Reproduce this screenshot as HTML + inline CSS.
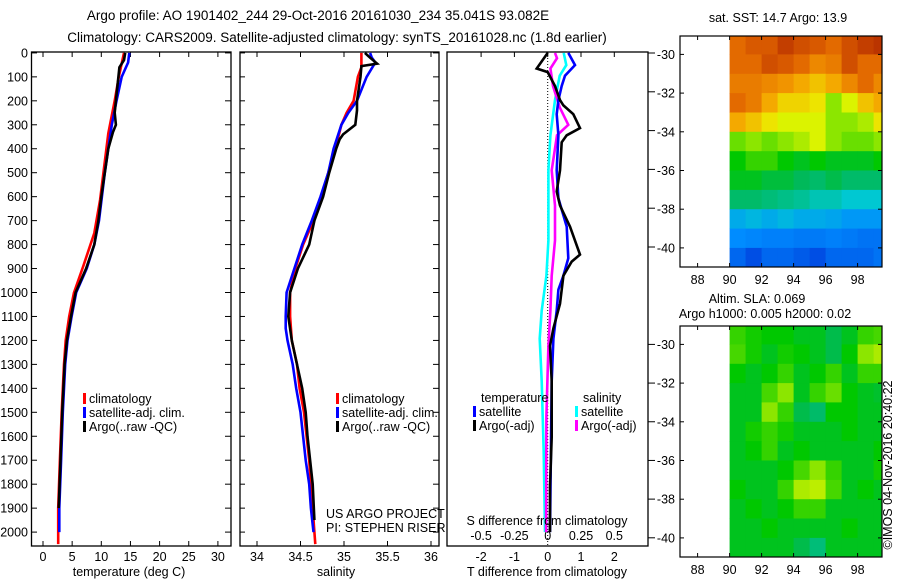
<!DOCTYPE html>
<html><head><meta charset="utf-8">
<style>
body{margin:0;background:#fff;}
svg{display:block;font-family:"Liberation Sans",sans-serif;}
text{font-size:12.5px;fill:#000;}
</style></head>
<body>
<svg id="fig" width="900" height="580" viewBox="0 0 900 580">
<text x="318" y="20" text-anchor="middle" style="font-size:13.5px">Argo profile: AO 1901402_244 29-Oct-2016 20161030_234 35.041S 93.082E</text>
<text x="337" y="42" text-anchor="middle" style="font-size:13.5px">Climatology: CARS2009. Satellite-adjusted climatology: synTS_20161028.nc (1.8d earlier)</text>
<g id="p1"></g>
<g id="p2"></g>
<g id="p3"></g>
<g id="m1"></g>
<g id="m2"></g>
<text transform="translate(892,465) rotate(-90)" text-anchor="middle">©IMOS 04-Nov-2016 20:40:22</text>
</svg>
<script>
// ---- data ----
const depthTicks=[0,100,200,300,400,500,600,700,800,900,1000,1100,1200,1300,1400,1500,1600,1700,1800,1900,2000];
const tempTicks=[0,5,10,15,20,25,30];
const salTicks=[34,34.5,35,35.5,36];
const tdTicks=[-2,-1,0,1,2];
const sdTicks=[-0.5,-0.25,0,0.25,0.5];
const climTD=[0,100,200,336,474,613,752,891,1002,1100,1200,1300,1500,1700,1900,2050];
const climT=[13.9,13.0,12.3,11.2,10.5,9.8,8.8,6.9,5.3,4.5,3.9,3.6,3.2,2.9,2.6,2.6];
const satTD=[0,40,100,200,300,400,500,600,700,800,900,1000,1100,1200,1300,1500,1700,1900,2000];
const satT=[14.8,14.6,13.5,12.6,11.8,11.2,10.6,10.1,9.6,8.8,7.5,5.7,4.9,4.2,3.8,3.4,3.1,2.8,2.8];
const argoTD=[0,30,60,200,250,300,330,400,500,600,700,800,900,1000,1100,1200,1300,1500,1700,1900];
const argoT=[14.1,13.9,13.1,12.5,12.3,12.5,12.0,11.2,10.6,10.0,9.5,8.8,7.4,5.6,4.8,4.1,3.7,3.3,3.0,2.7];
const climSD=[0,60,100,200,250,300,400,500,600,700,800,900,1000,1100,1200,1300,1400,1500,1600,1700,1800,1900,2000,2050];
const climS=[35.20,35.20,35.16,35.11,35.03,34.97,34.90,34.82,34.74,34.65,34.53,34.44,34.38,34.38,34.40,34.46,34.49,34.54,34.57,34.60,34.62,34.64,34.66,34.67];
const satSD=[0,20,40,100,200,250,300,400,500,600,700,800,900,1000,1100,1150,1200,1300,1400,1500,1600,1700,1800,1900,2000];
const satS=[35.30,35.32,35.36,35.26,35.15,35.05,34.97,34.88,34.82,34.73,34.63,34.52,34.43,34.34,34.33,34.33,34.35,34.41,34.45,34.50,34.53,34.56,34.60,34.62,34.65];
const argoSD=[0,20,45,55,100,200,240,300,340,360,400,500,600,700,800,900,1000,1100,1200,1300,1400,1500,1600,1700,1800,1950];
const argoS=[35.24,35.30,35.38,35.20,35.19,35.15,35.15,35.13,34.99,34.95,34.91,34.83,34.76,34.66,34.60,34.47,34.38,34.36,34.40,34.46,34.52,34.56,34.58,34.61,34.64,34.66];
const dTD_argo=[0,65,80,138,197,219,256,314,344,373,490,578,637,725,842,871,930,1047,1150,1223,1370,1604,1809,2000];
const dT_argo=[0,-0.33,0,0.22,0.37,0.47,0.77,0.97,0.57,0.42,0.37,0.27,0.37,0.67,0.97,0.72,0.47,0.37,0.17,0.07,0.12,0.12,0.07,0.07];
const dTD_sat=[0,51,95,138,197,256,344,490,607,725,857,930,988,1076,1193,1370,2000];
const dT_sat=[0.62,0.82,0.52,0.42,0.32,0.27,0.32,0.27,0.32,0.57,0.62,0.47,0.32,0.27,0.17,0.12,0.07];
const dSD_sat=[0,51,95,197,344,490,783,930,1076,1193,1370,1663,2000];
const dS_sat=[0.12,0.14,0.09,0.055,0.02,0.005,0.005,-0.01,-0.045,-0.06,-0.045,-0.03,-0.02];
const dSD_argo=[0,22,65,138,227,300,344,490,637,783,930,1076,1223,1516,2000];
const dS_argo=[0.055,0.07,0.02,0.04,0.09,0.155,0.07,0.03,0.055,0.055,0.03,0.02,0.005,-0.01,-0.012];
const lonTicks=[88,90,92,94,96,98];
const latTicks=[-30,-32,-34,-36,-38,-40];
// SST map grid (rows -29..-41 by 1deg, cols 90..100), colormap index 0..1
const sstGrid=[
[0.85,0.88,0.88,0.93,0.9,0.88,0.85,0.9,0.93,0.95],
[0.85,0.85,0.9,0.88,0.85,0.8,0.82,0.9,0.85,0.85],
[0.82,0.82,0.8,0.78,0.75,0.72,0.75,0.8,0.85,0.8],
[0.85,0.82,0.75,0.7,0.7,0.68,0.6,0.65,0.72,0.75],
[0.75,0.72,0.68,0.65,0.65,0.65,0.6,0.6,0.62,0.68],
[0.58,0.6,0.58,0.6,0.62,0.65,0.6,0.58,0.58,0.6],
[0.52,0.55,0.55,0.52,0.5,0.52,0.5,0.5,0.5,0.52],
[0.5,0.5,0.48,0.48,0.46,0.45,0.47,0.45,0.45,0.45],
[0.45,0.45,0.44,0.43,0.42,0.4,0.4,0.38,0.38,0.38],
[0.33,0.35,0.33,0.35,0.33,0.33,0.32,0.3,0.3,0.3],
[0.28,0.27,0.26,0.26,0.25,0.25,0.26,0.25,0.24,0.24],
[0.22,0.18,0.22,0.22,0.2,0.18,0.22,0.22,0.22,0.24]];
const slaGrid=[
[0.55,0.53,0.52,0.52,0.5,0.5,0.47,0.5,0.55,0.56],
[0.56,0.53,0.5,0.53,0.52,0.5,0.47,0.52,0.6,0.62],
[0.52,0.5,0.52,0.55,0.5,0.52,0.55,0.5,0.55,0.55],
[0.5,0.5,0.56,0.6,0.5,0.55,0.58,0.52,0.5,0.49],
[0.5,0.5,0.6,0.55,0.47,0.45,0.52,0.52,0.5,0.5],
[0.5,0.53,0.55,0.53,0.5,0.5,0.5,0.52,0.5,0.5],
[0.5,0.52,0.55,0.5,0.52,0.5,0.5,0.5,0.5,0.52],
[0.5,0.5,0.5,0.52,0.56,0.6,0.55,0.5,0.5,0.53],
[0.52,0.5,0.5,0.55,0.62,0.63,0.56,0.5,0.52,0.5],
[0.5,0.52,0.5,0.52,0.55,0.55,0.5,0.5,0.5,0.5],
[0.5,0.5,0.52,0.5,0.5,0.5,0.5,0.52,0.5,0.5],
[0.5,0.5,0.5,0.5,0.47,0.44,0.5,0.5,0.5,0.5]];
// ---- drawing ----
const NS='http://www.w3.org/2000/svg';
function mk(parent,tag,attrs){const e=document.createElementNS(NS,tag);for(const k in attrs)e.setAttribute(k,attrs[k]);parent.appendChild(e);return e;}
const yD=d=>52.9+d*0.2396;
const TOP=52, BOT=546;
function frame(g,x0,x1,name){
  const r=mk(g,'rect',{x:x0,y:TOP,width:x1-x0,height:BOT-TOP,fill:'none',stroke:'#000','stroke-width':1.3});
  
  
}
function line(g,xs,ds,xf,color,name){
  const pts=xs.map((v,i)=>xf(v).toFixed(1)+','+yD(ds[i]).toFixed(1)).join(' ');
  const p=mk(g,'polyline',{points:pts,fill:'none',stroke:color,'stroke-width':2.6,'stroke-linejoin':'miter'});
  
  
}
function txt(g,x,y,s,anchor,name){const t=mk(g,'text',{x:x,y:y,'text-anchor':anchor||'start'});t.textContent=s;
  
  
  return t;}
function legend(g,x,y,items,nameBase){
  items.forEach((it,i)=>{
    const m=mk(g,'rect',{x:x,y:y+i*14-10,width:3,height:11,fill:it[1]});
    
    
    txt(g,x+6,y+i*14,it[0],'start',nameBase+'-label');
  });
}
// panel 1
const p1=document.getElementById('p1');
const xT=t=>43+5.83*t;
frame(p1,31.5,231,'temperature-axes');
depthTicks.forEach(d=>{
  mk(p1,'line',{x1:31.5,x2:37,y1:yD(d),y2:yD(d),stroke:'#000'});
  mk(p1,'line',{x1:225,x2:231,y1:yD(d),y2:yD(d),stroke:'#000'});
  txt(p1,28,yD(d)+4.5,String(d),'end','depth-tick-label');
});
tempTicks.forEach(t=>{
  mk(p1,'line',{x1:xT(t),x2:xT(t),y1:BOT,y2:BOT-5,stroke:'#000'});
  mk(p1,'line',{x1:xT(t),x2:xT(t),y1:TOP,y2:TOP+5,stroke:'#000'});
  txt(p1,xT(t),561,String(t),'middle','temperature-tick-label');
});
txt(p1,129,576,'temperature (deg C)','middle','temperature-axis-title');
line(p1,climT,climTD,xT,'#ff0000','climatology-temperature');
line(p1,satT,satTD,xT,'#0000ff','satellite-temperature');
line(p1,argoT,argoTD,xT,'#000000','argo-temperature');
legend(p1,83,403,[['climatology','#f00'],['satellite-adj. clim.','#00f'],['Argo(..raw -QC)','#000']],'temperature-legend');
// panel 2
const p2=document.getElementById('p2');
const xS=s=>257+87*(s-34);
frame(p2,240,439,'salinity-axes');
depthTicks.forEach(d=>{mk(p2,'line',{x1:240,x2:245,y1:yD(d),y2:yD(d),stroke:'#000'});mk(p2,'line',{x1:433,x2:439,y1:yD(d),y2:yD(d),stroke:'#000'});});
salTicks.forEach(s=>{
  mk(p2,'line',{x1:xS(s),x2:xS(s),y1:BOT,y2:BOT-5,stroke:'#000'});
  mk(p2,'line',{x1:xS(s),x2:xS(s),y1:TOP,y2:TOP+5,stroke:'#000'});
  txt(p2,xS(s),561,String(s),'middle','salinity-tick-label');
});
txt(p2,336,576,'salinity','middle','salinity-axis-title');
line(p2,climS,climSD,xS,'#ff0000','climatology-salinity');
line(p2,satS,satSD,xS,'#0000ff','satellite-salinity');
line(p2,argoS,argoSD,xS,'#000000','argo-salinity');
legend(p2,336,403,[['climatology','#f00'],['satellite-adj. clim.','#00f'],['Argo(..raw -QC)','#000']],'salinity-legend');
txt(p2,326,518,'US ARGO PROJECT','start','project-credit');
txt(p2,326,532,'PI: STEPHEN RISER','start','pi-credit');
// panel 3
const p3=document.getElementById('p3');
const xDT=t=>547.7+33.3*t;
const xDS=s=>547.7+133.2*s;
frame(p3,447,648,'difference-axes');
mk(p3,'line',{x1:xDT(0),x2:xDT(0),y1:TOP,y2:BOT,stroke:'#000','stroke-dasharray':'1,2'});
tdTicks.forEach(t=>{
  mk(p3,'line',{x1:xDT(t),x2:xDT(t),y1:TOP,y2:TOP+5,stroke:'#000'});
  txt(p3,xDT(t),561,String(t),'middle','t-difference-tick-label');
});
sdTicks.forEach(s=>txt(p3,xDS(s),540,String(s),'middle','s-difference-tick-label'));
latTicks.forEach(l=>{[53+(l+30)*-19.4,344.4+(l+30)*-19.34].forEach(y=>mk(p3,'line',{x1:648,x2:655,y1:y,y2:y,stroke:'#000'}));});
line(p3,dS_sat,dSD_sat,xDS,'#00ffff','satellite-salinity-difference');
line(p3,dS_argo,dSD_argo,xDS,'#ff00ff','argo-salinity-difference');
line(p3,dT_sat,dTD_sat,xDT,'#0000ff','satellite-temperature-difference');
line(p3,dT_argo,dTD_argo,xDT,'#000000','argo-temperature-difference');
txt(p3,481,402,'temperature','start','temperature-legend-heading');
legend(p3,473,416,[['satellite','#00f'],['Argo(-adj)','#000']],'t-diff-legend');
txt(p3,583,402,'salinity','start','salinity-legend-heading');
legend(p3,575,416,[['satellite','#0ff'],['Argo(-adj)','#f0f']],'s-diff-legend');
txt(p3,547,525,'S difference from climatology','middle','s-difference-axis-title');
txt(p3,547,576,'T difference from climatology','middle','t-difference-axis-title');
// maps
const cmapStops=[[0,0,0,140],[0.15,0,60,220],[0.28,0,140,255],[0.38,0,200,210],[0.46,0,185,90],[0.52,0,200,0],[0.6,140,230,0],[0.66,235,245,0],[0.76,245,160,0],[0.86,225,100,0],[1,165,25,0]];
function cmap(v){
  for(let i=1;i<cmapStops.length;i++){const a=cmapStops[i-1],b=cmapStops[i];
    if(v<=b[0]){const f=(v-a[0])/(b[0]-a[0]);return 'rgb('+[1,2,3].map(k=>Math.round(a[k]+f*(b[k]-a[k]))).join(',')+')';}}
  return 'rgb(165,25,0)';
}
function map(id,top,bot,grid,title,nm){
  const g=document.getElementById(id);
  const L=680,R=882;
  const xL=lon=>729.6+16*(lon-90);
  const lat30=top+18.4;
  const yL=lat=>lat30+(-30-lat)*19.35;
  const cp=mk(g,'clipPath',{id:'cp'+id});mk(cp,'rect',{x:L,y:top,width:R-L,height:bot-top});
  const cg=mk(g,'g',{'clip-path':'url(#cp'+id+')'});
  grid.forEach((row,i)=>row.forEach((v,j)=>{
    const r=mk(cg,'rect',{x:xL(90+j).toFixed(1),y:yL(-29-i).toFixed(1),width:16.5,height:19.8,fill:cmap(v)});
    
    
  }));
  const f=mk(g,'rect',{x:L,y:top,width:R-L,height:bot-top,fill:'none',stroke:'#000','stroke-width':1.2});
  
  
  lonTicks.forEach(lon=>{mk(g,'line',{x1:xL(lon),x2:xL(lon),y1:bot,y2:bot-4,stroke:'#000'});mk(g,'line',{x1:xL(lon),x2:xL(lon),y1:top,y2:top+4,stroke:'#000'});
    txt(g,xL(lon),bot+17,String(lon),'middle',nm+'-lon-label');});
  latTicks.forEach(lat=>{mk(g,'line',{x1:L,x2:L+4,y1:yL(lat),y2:yL(lat),stroke:'#000'});mk(g,'line',{x1:R-4,x2:R,y1:yL(lat),y2:yL(lat),stroke:'#000'});
    txt(g,L-5,yL(lat)+4.5,String(lat),'end',nm+'-lat-label');});
  title.forEach((t,i)=>txt(g,t[1],t[2],t[0],'middle',nm+'-title'));
}
map('m1',36,267,sstGrid,[['sat. SST: 14.7 Argo: 13.9',778,22]],'sst-map');
map('m2',326,557,slaGrid,[['Altim. SLA: 0.069',757,303],['Argo h1000: 0.005 h2000: 0.02',765,318]],'sla-map');
</script>
</body></html>
